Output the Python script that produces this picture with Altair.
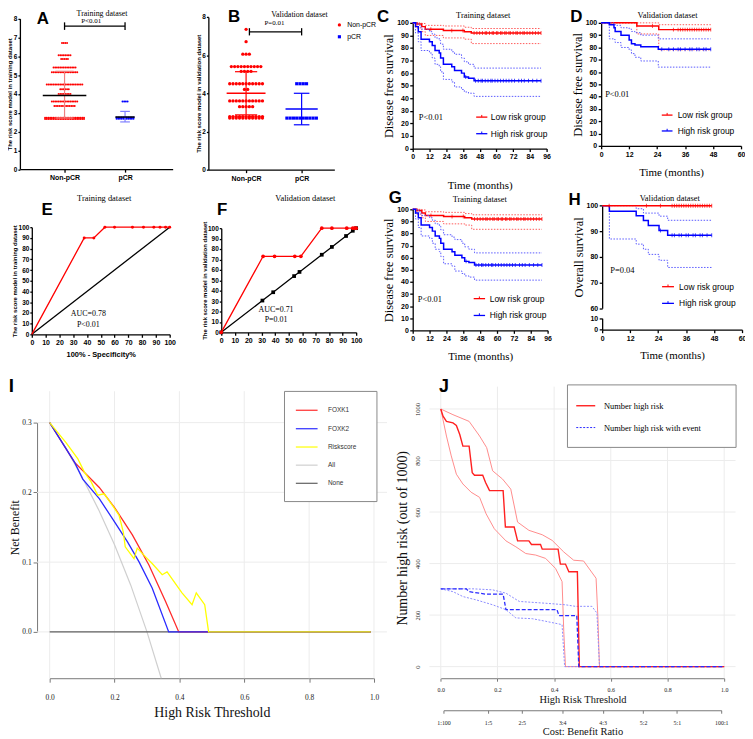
import json
import altair as alt
import pandas as pd

# ============================ DATA ============================
# A - training dataset: risk score per patient (value, number of patients)
A_CATS = ["Non-pCR", "pCR"]
A_NON_VALS = [6.7, 6.05, 5.85, 5.4, 5.15, 4.5, 4.25, 4.0, 3.6, 3.35, 2.73, 2.67]
A_NON_CNT = [4, 8, 5, 14, 16, 22, 6, 8, 16, 13, 24, 24]
A_PCR_VALS = [3.6, 2.74, 2.68]
A_PCR_CNT = [4, 11, 11]
A_MEAN = [3.92, 2.77]
A_LO = [2.72, 2.51]
A_HI = [5.2, 3.07]
A_SIG = 7.6

# B - validation dataset
B_CATS = ["Non-pCR", "pCR"]
B_NON_VALS = [7.35, 6.7, 6.05, 5.4, 5.15, 4.5, 4.2, 3.6, 3.3, 2.78, 2.7]
B_NON_CNT = [1, 1, 3, 10, 4, 11, 2, 11, 5, 11, 11]
B_PCR_VALS = [4.5, 2.7]
B_PCR_CNT = [4, 10]
B_MEAN = [4.0, 3.18]
B_LO = [2.87, 2.35]
B_HI = [5.13, 4.0]
B_SIG = 7.22

# C / G - training DFS (Kaplan-Meier)
C_LOW_T = [0, 3, 6.5, 9, 22, 37, 42, 92]
C_LOW_S = [100, 99, 97, 95, 94, 93, 92, 92]
C_LOW_UP = [100, 100, 99.5, 98, 97.5, 96.5, 95.5, 95.5]
C_LOW_LO = [100, 96, 93, 90, 88, 87, 83.5, 83.5]
C_HIGH_T = [0, 2, 4, 6, 12, 14, 16, 19, 20, 22, 28, 30, 35, 37, 40, 44, 92]
C_HIGH_S = [100, 97, 93, 87, 85, 82, 78, 76, 72, 67, 65, 62, 60, 57, 56, 54, 54]
C_HIGH_UP = [100, 100, 98, 95, 93, 91, 88, 86, 83, 79, 77, 75, 72, 69, 67, 64, 64]
C_HIGH_LO = [100, 92, 85, 78, 76, 72, 67, 65, 61, 55, 53, 49, 47, 45, 44, 41.5, 41.5]
C_LOW_CENS = [13, 28, 36, 44, 46, 48, 50, 52, 53, 55, 57, 58, 60, 61, 63, 64, 66, 67,
              69, 70, 72, 74, 75, 77, 79, 80, 82, 84, 86, 88, 90, 92]
C_HIGH_CENS = [38, 45, 47, 49, 50, 52, 54, 56, 57, 59, 61, 63, 65, 67, 69, 71, 73,
               76, 78, 80, 83, 86, 89, 92]

# D - validation DFS
D_LOW_T = [0, 15.3, 24.7, 47]
D_LOW_S = [100, 97.5, 94.5, 94.5]
D_LOW_UP = [100, 100, 98.5, 98.5]
D_LOW_LO = [100, 91, 78, 78]
D_HIGH_T = [0, 3.5, 5.5, 6, 8.5, 12, 13, 14.5, 17, 24.5, 47]
D_HIGH_S = [100, 98.4, 96, 93, 90, 86, 83, 82, 80.5, 78.5, 78.5]
D_HIGH_UP = [100, 100, 99, 98, 96, 95, 93, 92, 90, 87, 87]
D_HIGH_LO = [100, 87, 86.5, 84, 80, 78, 75, 72, 69, 64, 64]
D_LOW_CENS = [22, 31, 33, 34, 35, 36, 37, 38, 39, 40, 41, 42, 43, 44, 45, 46, 47]
D_HIGH_CENS = [26, 29, 31, 33, 34, 36, 38, 39, 41, 42, 44, 45, 47]

# H - validation OS
H_LOW_T = [0, 47]
H_LOW_S = [100, 100]
H_HIGH_T = [0, 3.1, 14.6, 17.7, 19.8, 24.4, 28.1, 47]
H_HIGH_S = [100, 97.8, 96.1, 94.2, 92.3, 90.3, 88.5, 88.5]
H_HIGH_UP = [100, 100, 98.8, 97.1, 97.1, 95.9, 94.3, 94.3]
H_HIGH_LO = [100, 87, 85, 83, 81, 78.7, 75.9, 75.9]
H_LOW_CENS = [3, 19, 25, 30, 31, 32, 33, 34, 35, 36, 37, 38, 39, 40, 41, 42, 43, 44, 45, 46, 47]
H_HIGH_CENS = [25, 30, 31, 33, 34, 36, 37, 39, 40, 42, 43, 45, 47]

# E / F - ROC curves
E_FPR = [0, 38, 45, 53, 60, 73, 81, 88.5, 93, 97, 100]
E_TPR = [0, 90, 90, 100, 100, 100, 100, 100, 100, 100, 100]
E_REF = [0, 100]
F_FPR = [0, 31, 39.5, 54.5, 59, 74.5, 82, 93, 97.5, 99, 100]
F_TPR = [0, 73, 73, 73, 73, 100, 100, 100, 100, 100, 100]
F_REF = [0, 30.5, 38.5, 54, 58, 74.5, 82, 92.5, 97.5, 100]

# I - decision curves (threshold, net benefit)
I_LABELS = ["FOXK1", "FOXK2", "Riskscore", "All", "None"]
I_T_ALL = [0, 0.05, 0.1, 0.15, 0.2, 0.25, 0.3, 0.344]
I_NB_ALL = [0.3, 0.263, 0.222, 0.176, 0.125, 0.067, 0.0, -0.0665]
I_T_NONE = [0, 0.99]
I_NB_NONE = [0, 0]
I_T_F1 = [0, 0.077, 0.153, 0.199, 0.255, 0.306, 0.357, 0.398, 0.99]
I_NB_F1 = [0.3, 0.243, 0.207, 0.179, 0.139, 0.096, 0.044, 0.0, 0.0]
I_T_F2 = [0, 0.077, 0.102, 0.153, 0.194, 0.24, 0.276, 0.316, 0.367, 0.99]
I_NB_F2 = [0.3, 0.243, 0.219, 0.191, 0.162, 0.129, 0.1, 0.063, 0.0, 0.0]
I_T_RS = [0, 0.051, 0.087, 0.107, 0.128, 0.148, 0.168, 0.194, 0.214, 0.227, 0.233, 0.26,
          0.27, 0.301, 0.316, 0.347, 0.362, 0.408, 0.439, 0.452, 0.478, 0.49, 0.99]
I_NB_RS = [0.3, 0.271, 0.248, 0.229, 0.215, 0.196, 0.198, 0.181, 0.167, 0.143, 0.122, 0.105,
           0.12, 0.105, 0.098, 0.082, 0.086, 0.056, 0.039, 0.056, 0.039, 0.0, 0.0]

# J - clinical impact curve (threshold, number high risk out of 1000)
J_LABELS = ["Number high risk", "Number high risk with event"]
J_T_N = [0, 0.008, 0.02, 0.043, 0.055, 0.067, 0.078, 0.1, 0.111, 0.119, 0.148, 0.158, 0.172,
         0.22, 0.228, 0.259, 0.271, 0.311, 0.32, 0.352, 0.358, 0.414, 0.422, 0.44, 0.452,
         0.482, 0.489, 1.0]
J_N = [1000, 972, 952, 946, 936, 901, 856, 856, 753, 743, 743, 715, 683, 683, 542, 542, 488,
       488, 474, 474, 456, 456, 398, 398, 368, 368, 0, 0]
J_T_NU = [0, 0.043, 0.1, 0.137, 0.162, 0.183, 0.218, 0.247, 0.271, 0.311, 0.358, 0.393, 0.434,
          0.469, 0.504, 0.548, 0.554, 0.56, 1.0]
J_NU = [1000, 978, 952, 895, 850, 760, 728, 689, 561, 529, 512, 490, 445, 413, 410, 343, 202, 0, 0]
J_T_NL = [0, 0.02, 0.037, 0.055, 0.078, 0.107, 0.137, 0.16, 0.189, 0.23, 0.265, 0.3, 0.335,
          0.37, 0.405, 0.428, 0.434, 0.44, 1.0]
J_NL = [1000, 895, 818, 747, 709, 677, 657, 593, 535, 488, 465, 439, 433, 420, 381, 330, 137, 0, 0]
J_T_E = [0, 0.09, 0.1, 0.16, 0.22, 0.23, 0.41, 0.417, 0.48, 0.487, 1.0]
J_E = [302, 302, 291, 281, 281, 221, 221, 198, 198, 0, 0]
J_T_EU = [0, 0.113, 0.183, 0.23, 0.277, 0.37, 0.44, 0.475, 0.533, 0.551, 0.56, 1.0]
J_EU = [302, 302, 298, 285, 253, 246, 240, 234, 234, 208, 0, 0]
J_T_EL = [0, 0.043, 0.078, 0.125, 0.183, 0.23, 0.265, 0.323, 0.37, 0.428, 0.437, 1.0]
J_EL = [302, 291, 272, 259, 240, 221, 189, 186, 176, 163, 0, 0]
CB_T = [0.0099, 0.1667, 0.2857, 0.4286, 0.5714, 0.7143, 0.8333, 0.99]
CB_LAB = ["1:100", "1:5", "2:5", "3:4", "4:3", "5:2", "5:1", "100:1"]

# ============================ LAYOUT ============================
SERIF = "Liberation Serif"
SANS = "Liberation Sans"
OX, OY = 16, 16          # page position of the view origin
W, H = 730, 717

# panel geometry: data domain -> page pixel range
GEO = {
    "A": dict(xd=[0.262, 2.787], xr=[20, 174], yd=[0, 8], yr=[167.5, 15.7]),
    "B": dict(xd=[0.321, 2.589], xr=[210, 337], yd=[0, 8], yr=[168, 14]),
    "C": dict(xd=[0, 96], xr=[416, 551], yd=[0, 100], yr=[146.7, 20]),
    "D": dict(xd=[0, 60], xr=[606, 747], yd=[0, 100], yr=[144, 20]),
    "E": dict(xd=[0, 100], xr=[32, 171], yd=[0, 100], yr=[334, 226]),
    "F": dict(xd=[0, 100], xr=[223, 359], yd=[0, 100], yr=[332, 227]),
    "G": dict(xd=[0, 96], xr=[416, 552], yd=[0, 100], yr=[330, 208]),
    "H": dict(xd=[0, 60], xr=[607, 748], yd=[60, 100], yr=[307.7, 204.3]),
    "H0": dict(xd=[0, 60], xr=[607, 748], yd=[0, 10], yr=[329.3, 317.7]),
    "I": dict(xd=[0, 1], xr=[50, 377], yd=[0, 0.3], yr=[634, 423]),
    "J": dict(xd=[0, 1], xr=[444.3, 730], yd=[0, 1000], yr=[669, 409.3]),
    "J2": dict(xd=[0.0099, 0.99], xr=[447.1, 727.1], yd=[0, 1000], yr=[669, 409.3]),
}


def X(field, p, axis=None):
    g = GEO[p]
    return alt.X(field, type="quantitative", axis=axis,
                 scale=alt.Scale(domain=g["xd"], range=[g["xr"][0] - OX, g["xr"][1] - OX],
                                 nice=False, zero=False))


def Y(field, p, axis=None):
    g = GEO[p]
    return alt.Y(field, type="quantitative", axis=axis,
                 scale=alt.Scale(domain=g["yd"], range=[g["yr"][0] - OY, g["yr"][1] - OY],
                                 nice=False, zero=False))


def left_axis(pos, values, **kw):
    d = dict(orient="left", offset=-(pos - OX), values=values, grid=False,
             labelFlush=False, labelOverlap=False, title=None)
    d.update(kw)
    return alt.Axis(**d)


def bottom_axis(pos, values, **kw):
    d = dict(orient="bottom", offset=(pos - OY) - H, values=values, grid=False,
             labelFlush=False, labelOverlap=False, title=None)
    d.update(kw)
    return alt.Axis(**d)


GP = dict(domainColor="black", domainWidth=1.3, tickColor="black", tickWidth=1.3, tickSize=3,
          labelFont=SANS, labelFontWeight="bold", labelFontSize=7, labelColor="black",
          labelPadding=1.5, titleColor="black")
SANS_T = dict(titleFont=SANS, titleFontWeight="bold", titleFontSize=6.5, titlePadding=1)
SERIF_T = dict(titleFont=SERIF, titleFontWeight="normal", titleFontSize=12.5, titlePadding=1)
EDGE_Y = dict(GP, tickSize=2, labelPadding=1, labelFontSize=6.5, titleFont=SANS,
              titleFontWeight="bold", titleFontSize=6, titlePadding=0.5)
R_AX = dict(domainColor="#777777", domainWidth=1, tickColor="#777777", tickWidth=1,
            labelFont=SERIF, labelColor="#222222", titleFont=SERIF, titleFontWeight="normal",
            titleColor="#111111")

layers = []
L = layers.append


def carrier(p, xaxis, yaxis):
    g = GEO[p]
    df = pd.DataFrame({"x": [g["xd"][0]], "y": [g["yd"][0]]})
    return alt.Chart(df).mark_point(opacity=0).encode(x=X("x", p, xaxis), y=Y("y", p, yaxis))


def line(p, xs, ys, color, width=1.2, dash=None, interp="linear", opacity=1.0):
    df = pd.DataFrame({"x": xs, "y": ys, "o": list(range(len(xs)))})
    kw = dict(color=color, strokeWidth=width, interpolate=interp, opacity=opacity)
    if dash is not None:
        kw["strokeDash"] = dash
    return alt.Chart(df).mark_line(**kw).encode(x=X("x", p), y=Y("y", p), order=alt.Order("o:Q"))


def rules(p, x1, y1, x2, y2, color, width=1.0, dash=None):
    df = pd.DataFrame({"x": x1, "y": y1, "x2": x2, "y2": y2})
    kw = dict(color=color, strokeWidth=width)
    if dash is not None:
        kw["strokeDash"] = dash
    return alt.Chart(df).mark_rule(**kw).encode(x=X("x", p), y=Y("y", p),
                                                 x2=alt.X2("x2"), y2=alt.Y2("y2"))


def pts(p, xs, ys, color, shape="circle", size=12):
    df = pd.DataFrame({"x": xs, "y": ys})
    return alt.Chart(df).mark_point(shape=shape, filled=True, size=size, color=color,
                                    opacity=1).encode(x=X("x", p), y=Y("y", p))


def txt(p, x, y, s, size=8, font=SERIF, weight="normal", align="center", color="black"):
    df = pd.DataFrame({"x": [x], "y": [y], "t": [s]})
    return alt.Chart(df).mark_text(font=font, fontSize=size, fontWeight=weight, align=align,
                                   baseline="middle", color=color).encode(
        x=X("x", p), y=Y("y", p), text="t:N")


def box(p, x1, y1, x2, y2, stroke="#888888"):
    df = pd.DataFrame({"x": [x1], "y": [y1], "x2": [x2], "y2": [y2]})
    return alt.Chart(df).mark_rect(fill="white", stroke=stroke, strokeWidth=1).encode(
        x=X("x", p), y=Y("y", p), x2=alt.X2("x2"), y2=alt.Y2("y2"))


def swarm(p, center, vals, cnts, spacing, color, shape, size):
    v = [val for val, c in zip(vals, cnts) for _ in range(c)]
    df = pd.DataFrame({"v": v})
    return (alt.Chart(df)
            .transform_window(rk="row_number()", groupby=["v"])
            .transform_joinaggregate(n="count()", groupby=["v"])
            .transform_calculate(xx=f"{center} + (datum.rk - (datum.n + 1) / 2) * {spacing}")
            .mark_point(shape=shape, filled=True, size=size, color=color, opacity=1)
            .encode(x=X("xx", p), y=Y("v", p)))


def step_val(ts, ss, t):
    v = ss[0]
    for ti, si in zip(ts, ss):
        if ti <= t:
            v = si
    return v


def cens(p, times, ts, ss, color):
    df = pd.DataFrame({"x": times, "y": [step_val(ts, ss, t) for t in times]})
    return alt.Chart(df).mark_tick(orient="vertical", size=4, thickness=1, color=color).encode(
        x=X("x", p), y=Y("y", p))


def errbar(p, center, mean, lo, hi, mean_hw, cap_hw, mean_color, bar_color):
    L(rules(p, [center], [lo], [center], [hi], bar_color, 1.2))
    L(rules(p, [center - cap_hw] * 2, [lo, hi], [center + cap_hw] * 2, [lo, hi], bar_color, 1.2))
    L(rules(p, [center - mean_hw], [mean], [center + mean_hw], [mean], mean_color, 1.5))


def km(p, t, s, up, lo, color, ci_color, cens_t):
    L(line(p, t, up, ci_color, 1.0, [1.5, 1.5], "step-after"))
    L(line(p, t, lo, ci_color, 1.0, [1.5, 1.5], "step-after"))
    L(line(p, t, s, color, 1.5, None, "step-after"))
    L(cens(p, cens_t, t, s, color))


def km_legend(p, x1, x2, xt, ys, labels, colors, fs=8.5):
    g = GEO[p]
    dy = 2.2 * (g["yd"][1] - g["yd"][0]) / (g["yr"][0] - g["yr"][1])
    for y, lab, col in zip(ys, labels, colors):
        L(line(p, [x1, x2], [y, y], col, 1.3))
        xm = (x1 + x2) / 2
        L(rules(p, [xm], [y], [xm], [y + dy], col, 1.0))
        L(txt(p, xt, y, lab, fs, SANS, align="left"))


RED, BLUE = "#ff0000", "#0000ff"
RED_CI, BLUE_CI = "#ff5a5a", "#5a5aff"
KM_LEG = ["Low risk group", "High risk group"]

# ---------------- A ----------------
catA = "[" + ",".join(json.dumps(c) for c in A_CATS) + "][datum.value - 1]"
L(carrier("A",
          bottom_axis(167.5, [1, 2], labelExpr=catA, **GP),
          left_axis(20, list(range(9)), title="The risk score model in training dataset",
                    **EDGE_Y)))
L(swarm("A", 1, A_NON_VALS, A_NON_CNT, 0.028, RED, "circle", 4))
L(swarm("A", 2, A_PCR_VALS, A_PCR_CNT, 0.028, BLUE, "circle", 4))
errbar("A", 1, A_MEAN[0], A_LO[0], A_HI[0], 0.36, 0.15, "black", "#f08080")
errbar("A", 2, A_MEAN[1], A_LO[1], A_HI[1], 0.16, 0.08, "black", "#7f7fff")
L(rules("A", [1], [A_SIG], [2], [A_SIG], "black", 1.3))
L(rules("A", [1, 2], [A_SIG - 0.2] * 2, [1, 2], [A_SIG + 0.2] * 2, "black", 1.3))
L(txt("A", 1.44, 7.86, "P<0.01", 7))
L(txt("A", 1.62, 8.24, "Training dataset", 8))
L(txt("A", 0.64, 8.0, "A", 17, SANS, "bold"))

# ---------------- B ----------------
catB = "[" + ",".join(json.dumps(c) for c in B_CATS) + "][datum.value - 1]"
L(carrier("B",
          bottom_axis(168, [1, 2], labelExpr=catB, **GP),
          left_axis(210, [0, 2, 4, 6, 8], title="The risk score model in validation dataset",
                    **EDGE_Y)))
L(swarm("B", 1, B_NON_VALS, B_NON_CNT, 0.059, RED, "circle", 11))
L(swarm("B", 2, B_PCR_VALS, B_PCR_CNT, 0.059, BLUE, "square", 10))
errbar("B", 1, B_MEAN[0], B_LO[0], B_HI[0], 0.35, 0.2, RED, RED)
errbar("B", 2, B_MEAN[1], B_LO[1], B_HI[1], 0.29, 0.14, BLUE, BLUE)
L(rules("B", [1.06], [B_SIG], [2], [B_SIG], "black", 1.3))
L(rules("B", [1.06, 2], [B_SIG - 0.19] * 2, [1.06, 2], [B_SIG + 0.19] * 2, "black", 1.3))
L(txt("B", 1.51, 7.69, "P=0.01", 7))
L(txt("B", 1.96, 8.1, "Validation dataset", 8))
L(txt("B", 0.786, 7.97, "B", 17, SANS, "bold"))
L(pts("B", [2.68], [7.58], RED, "circle", 11))
L(pts("B", [2.68], [6.96], BLUE, "square", 10))
L(txt("B", 2.82, 7.58, B_CATS[0], 7, SANS, align="left"))
L(txt("B", 2.82, 6.96, B_CATS[1], 7, SANS, align="left"))

# ---------------- C ----------------
L(carrier("C",
          bottom_axis(146.7, list(range(0, 97, 12)), title="Time (months)", **GP,
                      **dict(SERIF_T, titleFontSize=11, titlePadding=20)),
          left_axis(416, list(range(0, 101, 10)), title="Disease free survival", **GP,
                    **SERIF_T)))
km("C", C_LOW_T, C_LOW_S, C_LOW_UP, C_LOW_LO, RED, RED_CI, C_LOW_CENS)
km("C", C_HIGH_T, C_HIGH_S, C_HIGH_UP, C_HIGH_LO, BLUE, BLUE_CI, C_HIGH_CENS)
km_legend("C", 45.5, 53.5, 56, [25, 11.8], KM_LEG, [RED, BLUE])
L(txt("C", 4.3, 25, "P<0.01", 8.5, align="left"))
L(txt("C", 50.5, 106.3, "Training dataset", 8.5))
L(txt("C", -21.3, 104.7, "C", 17, SANS, "bold"))

# ---------------- D ----------------
L(carrier("D",
          bottom_axis(144, list(range(0, 61, 12)), title="Time (months)", **GP,
                      **dict(SERIF_T, titleFontSize=11, titlePadding=9)),
          left_axis(606, list(range(0, 101, 10)), title="Disease free survival", **GP,
                    **SERIF_T)))
km("D", D_LOW_T, D_LOW_S, D_LOW_UP, D_LOW_LO, RED, RED_CI, D_LOW_CENS)
km("D", D_HIGH_T, D_HIGH_S, D_HIGH_UP, D_HIGH_LO, BLUE, BLUE_CI, D_HIGH_CENS)
km_legend("D", 26, 30.6, 32.8, [25, 12.1], KM_LEG, [RED, BLUE])
L(txt("D", 1.7, 41.9, "P<0.01", 8.5, align="left"))
L(txt("D", 28.5, 106.0, "Validation dataset", 8.5))
L(txt("D", -10.6, 104.8, "D", 17, SANS, "bold"))

# ---------------- E ----------------
L(carrier("E",
          bottom_axis(334, list(range(0, 101, 10)), title="100% - Specificity%", **GP,
                      **dict(SANS_T, titleFontSize=7.5, titlePadding=5)),
          left_axis(32, list(range(0, 101, 10)), title="The risk score model in training dataset",
                    **EDGE_Y)))
L(line("E", E_REF, E_REF, "black", 1.3))
L(line("E", E_FPR, E_TPR, RED, 1.3))
L(pts("E", E_FPR[1:], E_TPR[1:], RED, "circle", 9))
L(txt("E", 41, 19.4, "AUC=0.78", 8))
L(txt("E", 41, 8.3, "P<0.01", 8))
L(txt("E", 52.5, 126.9, "Training dataset", 8.5))
L(txt("E", 11.2, 116.2, "E", 17, SANS, "bold"))

# ---------------- F ----------------
L(carrier("F",
          bottom_axis(332, list(range(0, 101, 10)), **GP),
          left_axis(223, list(range(0, 101, 10)), title="The risk score model in validation dataset",
                    **EDGE_Y)))
L(line("F", F_REF, F_REF, "black", 1.3))
L(pts("F", F_REF, F_REF, "black", "square", 14))
L(line("F", F_FPR, F_TPR, RED, 1.3))
L(pts("F", F_FPR, F_TPR, RED, "circle", 14))
L(txt("F", 40.6, 21.9, "AUC=0.71", 8))
L(txt("F", 40.6, 11.4, "P=0.01", 8))
L(txt("F", 62.3, 128.6, "Validation dataset", 8.5))
L(txt("F", 0.7, 117.6, "F", 17, SANS, "bold"))

# ---------------- G ----------------
L(carrier("G",
          bottom_axis(330, list(range(0, 97, 12)), title="Time (months)", **GP,
                      **dict(SERIF_T, titleFontSize=11, titlePadding=9)),
          left_axis(416, list(range(0, 101, 10)), title="Disease free survival", **GP,
                    **SERIF_T)))
km("G", C_LOW_T, C_LOW_S, C_LOW_UP, C_LOW_LO, RED, RED_CI, C_LOW_CENS)
km("G", C_HIGH_T, C_HIGH_S, C_HIGH_UP, C_HIGH_LO, BLUE, BLUE_CI, C_HIGH_CENS)
km_legend("G", 43.4, 51.5, 54.8, [26.2, 12.3], KM_LEG, [RED, BLUE])
L(txt("G", 3.6, 26.2, "P<0.01", 8.5, align="left"))
L(txt("G", 47.7, 108.2, "Training dataset", 8.5))
L(txt("G", -12.4, 109.4, "G", 17, SANS, "bold"))

# ---------------- H ----------------
L(carrier("H", None,
          left_axis(607, [60, 70, 80, 90, 100], title="Overall survival", **GP, **SERIF_T)))
L(carrier("H0",
          bottom_axis(329.3, list(range(0, 61, 12)), title="Time (months)", **GP,
                      **dict(SERIF_T, titleFontSize=11, titlePadding=9)),
          left_axis(607, [0, 10], **GP)))
L(line("H", H_HIGH_T, H_HIGH_UP, BLUE_CI, 1.0, [1.5, 1.5], "step-after"))
L(line("H", H_HIGH_T, H_HIGH_LO, BLUE_CI, 1.0, [1.5, 1.5], "step-after"))
L(line("H", H_HIGH_T, H_HIGH_S, BLUE, 1.5, None, "step-after"))
L(cens("H", H_HIGH_CENS, H_HIGH_T, H_HIGH_S, BLUE))
L(line("H", H_LOW_T, H_LOW_S, RED, 1.5, None, "step-after"))
L(cens("H", H_LOW_CENS, H_LOW_T, H_LOW_S, RED))
km_legend("H", 25.7, 30.8, 33, [68.4, 61.9], KM_LEG, [RED, BLUE])
L(txt("H", 3.5, 75, "P=0.04", 8.5, align="left"))
L(txt("H", 29, 102.8, "Validation dataset", 8.5))
L(txt("H", -11.8, 102.2, "H", 17, SANS, "bold"))

# ---------------- I ----------------
GRID = "#ececec"
I_GX = [0, 0.2, 0.4, 0.6, 0.8, 1.0]
I_GY = [0, 0.1, 0.2, 0.3]
L(rules("I", I_GX, [-0.0665] * 6, I_GX, [0.345] * 6, GRID, 1))
L(rules("I", [-0.039] * 4, I_GY, [1.04] * 4, I_GY, GRID, 1))
L(carrier("I",
          bottom_axis(680.7, I_GX, format=".1f", tickSize=4, labelFontSize=7.5, labelPadding=11,
                      title="High Risk Threshold", titleFontSize=14, titlePadding=5, **R_AX),
          left_axis(37.3, I_GY, format=".1f", tickSize=4, labelFontSize=7.5, labelPadding=2,
                    title="Net Benefit", titleFontSize=12, titlePadding=0.5, **R_AX)))
I_COLORS = ["#ff2a2a", "#2a2aff", "#ffff00", "#cfcfcf", "#606060"]
L(line("I", I_T_ALL, I_NB_ALL, I_COLORS[3], 1.2))
L(line("I", I_T_NONE, I_NB_NONE, I_COLORS[4], 1.2))
L(line("I", I_T_F1, I_NB_F1, I_COLORS[0], 1.3))
L(line("I", I_T_F2, I_NB_F2, I_COLORS[1], 1.3))
L(line("I", I_T_RS, I_NB_RS, I_COLORS[2], 1.3))
L(box("I", 0.724, 0.1868, 1.009, 0.3447))
for yy, lab, col in zip([0.3177, 0.2912, 0.265, 0.239, 0.213], I_LABELS, I_COLORS):
    L(line("I", [0.759, 0.826], [yy, yy], col, 1.2))
    L(txt("I", 0.858, yy, lab, 6.5, SANS, align="left", color="#333333"))
L(txt("I", -0.118, 0.352, "I", 19, SANS, "bold"))

# ---------------- J ----------------
J_GX = [0, 0.2, 0.4, 0.6, 0.8, 1.0]
J_GY = [0, 200, 400, 600, 800, 1000]
L(rules("J", J_GX, [-45] * 6, J_GX, [1087] * 6, GRID, 1))
L(rules("J", [-0.04] * 6, J_GY, [1.04] * 6, J_GY, GRID, 1))
L(carrier("J",
          bottom_axis(680.7, J_GX, format=".1f", tickSize=3, labelFontSize=6, labelPadding=5,
                      title="High Risk Threshold", titleFontSize=10.5, titlePadding=2, **R_AX),
          left_axis(433, J_GY, format="d", domain=False, ticks=False, labelFontSize=6.5,
                    labelPadding=9, labelAngle=270, labelAlign="center", labelBaseline="bottom",
                    title="Number high risk (out of 1000)", titleFontSize=14, titlePadding=5, **R_AX)))
cbExpr = json.dumps(CB_LAB) + "[indexof(" + json.dumps(CB_T) + ", round(datum.value * 10000) / 10000)]"
L(carrier("J2",
          bottom_axis(713, CB_T, labelExpr=cbExpr, tickSize=3, labelFontSize=6, labelPadding=6,
                      title="Cost: Benefit Ratio", titleFontSize=10.5, titlePadding=1, **R_AX),
          None))
L(line("J", J_T_NU, J_NU, "#ff8c8c", 1.0))
L(line("J", J_T_NL, J_NL, "#ff8c8c", 1.0))
L(line("J", J_T_EU, J_EU, "#8c8cff", 1.0, [2, 1.5]))
L(line("J", J_T_EL, J_EL, "#8c8cff", 1.0, [2, 1.5]))
L(line("J", J_T_N, J_N, "#ff2020", 1.4))
L(line("J", J_T_E, J_E, "#2a2aff", 1.3, [4, 2]))
L(box("J", 0.447, 851, 1.042, 1093.6))
L(line("J", [0.478, 0.545], [1012.7, 1012.7], "#ff2020", 1.4))
L(line("J", [0.478, 0.545], [928, 928], "#2a2aff", 1.0, [2, 1.5]))
L(txt("J", 0.576, 1012.7, J_LABELS[0], 8.5, align="left"))
L(txt("J", 0.576, 928, J_LABELS[1], 8.5, align="left"))
L(txt("J", 0.011, 1086, "J", 18, SANS, "bold"))

chart = (alt.layer(*layers)
         .resolve_scale(x="independent", y="independent")
         .properties(width=W, height=H,
                     padding={"left": 8, "top": 8, "right": 5, "bottom": 6},
                     autosize=alt.AutoSizeParams(type="none"), background="white")
         .configure_view(strokeWidth=0))

chart.save("out.html", embed_options={"renderer": "svg", "actions": False})
